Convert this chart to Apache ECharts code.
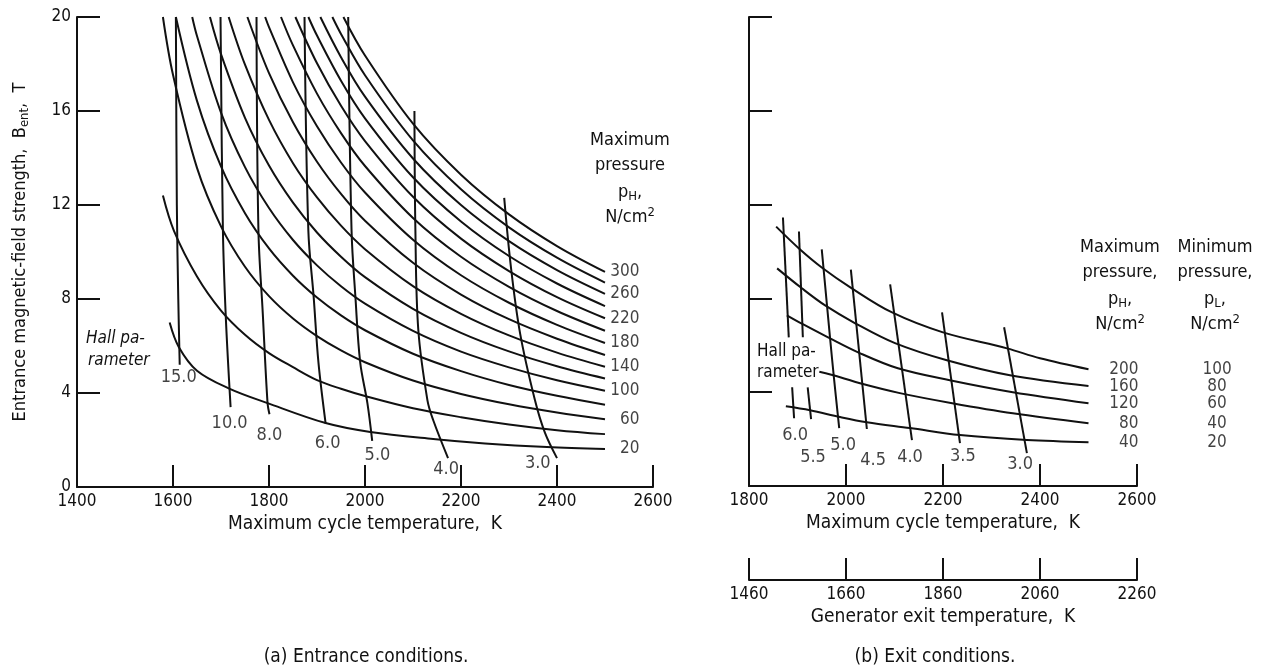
<!DOCTYPE html>
<html>
<head>
<meta charset="utf-8">
<title>Magnetic-field strength vs cycle temperature</title>
<script src="https://cdn.jsdelivr.net/npm/echarts@6/dist/echarts.min.js"></script>
<style>
  html, body { margin: 0; padding: 0; background: #fff; }
  #chart { width: 1272px; height: 668px; }
</style>
</head>
<body>
<div id="chart"></div>
<script>
// axis ticks
const entranceTempTicks = [1400, 1600, 1800, 2000, 2200, 2400, 2600]
const exitTempTicks = [1800, 2000, 2200, 2400, 2600]
const generatorExitTicks = [1460, 1660, 1860, 2060, 2260]
const fieldTicks = [0, 4, 8, 12, 16, 20]

// (a) entrance conditions: one curve per maximum pressure, points are [T (K), B (T)]
const entrancePressures = [20, 40, 60, 80, 100, 120, 140, 160, 180, 200, 220, 240, 260, 280, 300]
const entranceLabelled = [300, 260, 220, 180, 140, 100, 60, 20]
const entranceCurves = [
  [[1593, 7.0], [1612, 5.96], [1650, 4.95], [1716, 4.2], [1797, 3.57], [1918, 2.72], [2011, 2.34], [2142, 2.04], [2250, 1.85], [2379, 1.7], [2500, 1.62]],
  [[1579, 12.4], [1602, 10.9], [1650, 8.96], [1700, 7.51], [1750, 6.48], [1800, 5.7], [1850, 5.1], [1900, 4.55], [1950, 4.18], [2000, 3.87], [2100, 3.35], [2200, 2.97], [2300, 2.66], [2400, 2.42], [2500, 2.25]],
  [[1579, 20], [1600, 17.54], [1650, 13.58], [1700, 11.09], [1750, 9.37], [1800, 8.12], [1850, 7.17], [1900, 6.42], [1950, 5.81], [2000, 5.31], [2100, 4.53], [2200, 3.96], [2300, 3.52], [2400, 3.17], [2500, 2.88]],
  [[1606, 20], [1650, 16.43], [1700, 13.64], [1750, 11.65], [1800, 10.15], [1850, 8.99], [1900, 8.06], [1950, 7.3], [2000, 6.67], [2100, 5.67], [2200, 4.93], [2300, 4.34], [2400, 3.88], [2500, 3.5]],
  [[1640, 20], [1650, 19.19], [1700, 15.93], [1750, 13.61], [1800, 11.87], [1850, 10.51], [1900, 9.43], [1950, 8.54], [2000, 7.8], [2100, 6.64], [2200, 5.76], [2300, 5.09], [2400, 4.54], [2500, 4.1]],
  [[1677, 20], [1700, 18.42], [1750, 15.71], [1800, 13.68], [1850, 12.1], [1900, 10.83], [1950, 9.8], [2000, 8.93], [2100, 7.58], [2200, 6.56], [2300, 5.77], [2400, 5.14], [2500, 4.62]],
  [[1716, 20], [1750, 17.97], [1800, 15.62], [1850, 13.78], [1900, 12.32], [1950, 11.12], [2000, 10.12], [2100, 8.55], [2200, 7.37], [2300, 6.45], [2400, 5.72], [2500, 5.12]],
  [[1755, 20], [1800, 17.61], [1850, 15.52], [1900, 13.84], [1950, 12.47], [2000, 11.33], [2100, 9.54], [2200, 8.19], [2300, 7.14], [2400, 6.31], [2500, 5.62]],
  [[1792, 20], [1800, 19.57], [1850, 17.22], [1900, 15.35], [1950, 13.81], [2000, 12.53], [2100, 10.52], [2200, 9.01], [2300, 7.84], [2400, 6.9], [2500, 6.13]],
  [[1825, 20], [1850, 18.79], [1900, 16.74], [1950, 15.06], [2000, 13.66], [2100, 11.45], [2200, 9.8], [2300, 8.52], [2400, 7.49], [2500, 6.65]],
  [[1855, 20], [1900, 18.03], [1950, 16.22], [2000, 14.72], [2100, 12.35], [2200, 10.57], [2300, 9.19], [2400, 8.08], [2500, 7.18]],
  [[1882, 20], [1900, 19.21], [1950, 17.29], [2000, 15.69], [2100, 13.18], [2200, 11.3], [2300, 9.83], [2400, 8.66], [2500, 7.7]],
  [[1907, 20], [1950, 18.29], [2000, 16.61], [2100, 13.98], [2200, 12.0], [2300, 10.46], [2400, 9.23], [2500, 8.22]],
  [[1932, 20], [1950, 19.28], [2000, 17.52], [2100, 14.75], [2200, 12.67], [2300, 11.05], [2400, 9.76], [2500, 8.7]],
  [[1955, 20], [2000, 18.36], [2100, 15.46], [2200, 13.29], [2300, 11.6], [2400, 10.25], [2500, 9.15]]
]

// (a) Hall parameter lines
const entranceHallValues = ['15.0', '10.0', '8.0', '6.0', '5.0', '4.0', '3.0']
const entranceHallLines = [
  [[1606, 20], [1608, 12], [1611, 8], [1614, 5.2]],
  [[1699, 20], [1704, 10.9], [1710, 7.23], [1720, 3.4]],
  [[1774, 20], [1778, 10.9], [1787, 7.4], [1797, 3.57], [1801, 3.1]],
  [[1874, 20], [1882, 10.9], [1893, 8.1], [1903, 5.3], [1918, 2.7]],
  [[1965, 20], [1972, 10.9], [1980, 8.1], [1990, 5.3], [2005, 3.57], [2015, 1.96]],
  [[2103, 16.0], [2105, 10.9], [2111, 6.7], [2130, 3.7], [2142, 2.85], [2173, 1.23]],
  [[2290, 12.3], [2304, 9.36], [2323, 6.55], [2354, 3.7], [2375, 2.3], [2400, 1.23]]
]
const entranceHallLabelAt = [[1612, 4.68], [1718, 2.72], [1801, 2.21], [1922, 1.87], [2026, 1.36], [2169, 0.77], [2360, 1.02]]

// (b) exit conditions
const exitMaxPressures = [40, 80, 120, 160, 200]
const exitMinPressures = [20, 40, 60, 80, 100]
const exitCurves = [
  [[1876, 3.4], [1926, 3.23], [1988, 2.94], [2043, 2.72], [2132, 2.47], [2235, 2.17], [2373, 1.96], [2500, 1.87]],
  [[1945, 4.87], [1988, 4.64], [2029, 4.38], [2111, 3.96], [2219, 3.53], [2344, 3.1], [2500, 2.68]],
  [[1878, 7.28], [1911, 6.9], [1963, 6.34], [2025, 5.7], [2107, 5.02], [2214, 4.51], [2344, 4.0], [2500, 3.53]],
  [[1858, 9.28], [1909, 8.43], [1957, 7.7], [2019, 6.94], [2101, 6.09], [2208, 5.36], [2338, 4.72], [2500, 4.26]],
  [[1856, 11.06], [1903, 10.13], [1950, 9.32], [2012, 8.43], [2095, 7.4], [2200, 6.55], [2332, 5.87], [2400, 5.45], [2500, 4.98]]
]
const exitHallValues = ['6.0', '5.5', '5.0', '4.5', '4.0', '3.5', '3.0']
// each Hall line may be broken where the "Hall parameter" note sits
const exitHallLines = [
  [[[1870, 11.45], [1882, 6.34]], [[1889, 4.21], [1893, 2.89]]],
  [[[1903, 10.85], [1911, 6.34]], [[1921, 4.21], [1928, 2.85]]],
  [[[1950, 10.09], [1967, 6.34], [1975, 4.64], [1986, 2.47]]],
  [[[2010, 9.23], [2043, 2.43]]],
  [[[2091, 8.6], [2136, 1.96]]],
  [[[2198, 7.4], [2235, 1.83]]],
  [[[2326, 6.77], [2373, 1.4]]]
]
const exitHallLabelAt = [[1895, 2.17], [1932, 1.23], [1994, 1.74], [2056, 1.11], [2132, 1.23], [2241, 1.28], [2359, 0.94]]

const INK = '#111'
const FONT = 'DejaVu Sans Condensed'
const lineStyle = { color: INK, width: 2 }

const axisCommon = (ticks) => ({
  type: 'value',
  min: ticks[0],
  max: ticks[ticks.length - 1],
  interval: ticks[1] - ticks[0],
  axisLine: { show: true, onZero: false, lineStyle: { color: INK, width: 2 } },
  axisTick: { show: true, inside: true, length: 22, lineStyle: { color: INK, width: 2 } },
  axisLabel: { color: INK, fontFamily: FONT, fontSize: 17, margin: 6, formatter: v => String(v) },
  splitLine: { show: false }
})

const rich = {
  t: { fontFamily: FONT, fontSize: 18, color: INK },
  s: { fontFamily: FONT, fontSize: 13, color: INK, padding: [9, 0, 0, 0] },
  u: { fontFamily: FONT, fontSize: 13, color: INK, padding: [0, 0, 9, 0] }
}

const series = []

const curveSeries = (pts, xi, name) => ({
  name, type: 'line', xAxisIndex: xi, yAxisIndex: xi, data: pts,
  smooth: 0.35, symbol: 'none', lineStyle, silent: true, clip: false
})

entranceCurves.forEach((pts, i) => series.push(curveSeries(pts, 0, 'pH ' + entrancePressures[i])))
entranceHallLines.forEach((pts, i) => series.push(curveSeries(pts, 0, 'Hall ' + entranceHallValues[i])))
exitCurves.forEach((pts, i) => series.push(curveSeries(pts, 1, 'pH ' + exitMaxPressures[i])))
exitHallLines.forEach((segs, i) => segs.forEach(seg => series.push(curveSeries(seg, 1, 'Hall ' + exitHallValues[i]))))

const numLabel = { show: true, color: INK, fontFamily: FONT, fontSize: 17 }
const labelSeries = (xi, data, label) => ({
  type: 'scatter', xAxisIndex: xi, yAxisIndex: xi, symbolSize: 0, silent: true, clip: false,
  data, label: Object.assign({}, numLabel, { formatter: '{b}' }, label)
})

// pressure labels at the right end of the curves
const lastB = (pts) => pts[pts.length - 1][1]
series.push(labelSeries(0, entranceLabelled.map(p => ({
  name: String(p), value: [2572, lastB(entranceCurves[entrancePressures.indexOf(p)])]
})), { position: 'left', distance: 0 }))
series.push(labelSeries(1, exitMaxPressures.map((p, i) => ({
  name: String(p), value: [2603, lastB(exitCurves[i])]
})), { position: 'left', distance: 0 }))
series.push(labelSeries(1, exitMinPressures.map((p, i) => ({
  name: String(p), value: [2765, lastB(exitCurves[i])]
})), { position: 'inside' }))

// Hall parameter values
series.push(labelSeries(0, entranceHallValues.map((v, i) => ({ name: v, value: entranceHallLabelAt[i] })),
  { position: 'inside', fontSize: 18 }))
series.push(labelSeries(1, exitHallValues.map((v, i) => ({ name: v, value: exitHallLabelAt[i] })),
  { position: 'inside', fontSize: 18 }))

const txt = (x, y, text, extra) => ({
  type: 'text', x, y, silent: true,
  style: Object.assign({
    text, fill: INK, font: '18px "' + FONT + '"', align: 'center', verticalAlign: 'middle', rich
  }, extra || {})
})

const chart = echarts.init(document.getElementById('chart'), null, { renderer: 'canvas' })
chart.setOption({
  animation: false,
  backgroundColor: '#fff',
  grid: [
    { left: 77, top: 17, width: 576, height: 470 },
    { left: 749, top: 17, width: 388, height: 469 }
  ],
  xAxis: [
    Object.assign(axisCommon(entranceTempTicks), {
      gridIndex: 0, name: 'Maximum cycle temperature,  K', nameLocation: 'middle', nameGap: 27,
      nameTextStyle: { color: INK, fontFamily: FONT, fontSize: 19 }
    }),
    Object.assign(axisCommon(exitTempTicks), {
      gridIndex: 1, name: 'Maximum cycle temperature,  K', nameLocation: 'middle', nameGap: 27,
      nameTextStyle: { color: INK, fontFamily: FONT, fontSize: 19 }
    }),
    Object.assign(axisCommon(generatorExitTicks), {
      gridIndex: 1, position: 'bottom', offset: 94, name: 'Generator exit temperature,  K',
      nameLocation: 'middle', nameGap: 26,
      nameTextStyle: { color: INK, fontFamily: FONT, fontSize: 19 }
    })
  ],
  yAxis: [
    Object.assign(axisCommon(fieldTicks), {
      gridIndex: 0,
      axisTick: { show: true, inside: true, length: 23, lineStyle: { color: INK, width: 2 } },
      name: '{t|Entrance magnetic-field strength,  B}{s|ent}{t|,  T}',
      nameLocation: 'middle', nameGap: 46, nameRotate: 90,
      nameTextStyle: { rich }
    }),
    Object.assign(axisCommon(fieldTicks), {
      gridIndex: 1,
      axisTick: { show: true, inside: true, length: 23, lineStyle: { color: INK, width: 2 } },
      axisLabel: { show: false }
    })
  ],
  graphic: [
    txt(630, 140, 'Maximum'),
    txt(630, 165, 'pressure'),
    txt(630, 192, '{t|p}{s|H}{t|,}'),
    txt(630, 217, '{t|N/cm}{u|2}'),
    txt(1120, 247, 'Maximum'),
    txt(1120, 272, 'pressure,'),
    txt(1120, 299, '{t|p}{s|H}{t|,}'),
    txt(1120, 324, '{t|N/cm}{u|2}'),
    txt(1215, 247, 'Minimum'),
    txt(1215, 272, 'pressure,'),
    txt(1215, 299, '{t|p}{s|L}{t|,}'),
    txt(1215, 324, '{t|N/cm}{u|2}'),
    txt(86, 339, 'Hall pa-', { align: 'left', font: 'italic 17px "' + FONT + '"' }),
    txt(88, 361, 'rameter', { align: 'left', font: 'italic 17px "' + FONT + '"' }),
    txt(757, 352, 'Hall pa-', { align: 'left', font: '17px "' + FONT + '"' }),
    txt(757, 373, 'rameter', { align: 'left', font: '17px "' + FONT + '"' }),
    txt(366, 657, '(a) Entrance conditions.', { font: '19px "' + FONT + '"' }),
    txt(935, 657, '(b) Exit conditions.', { font: '19px "' + FONT + '"' })
  ],
  series
})
window.addEventListener('resize', () => chart.resize())
</script>
</body>
</html>
